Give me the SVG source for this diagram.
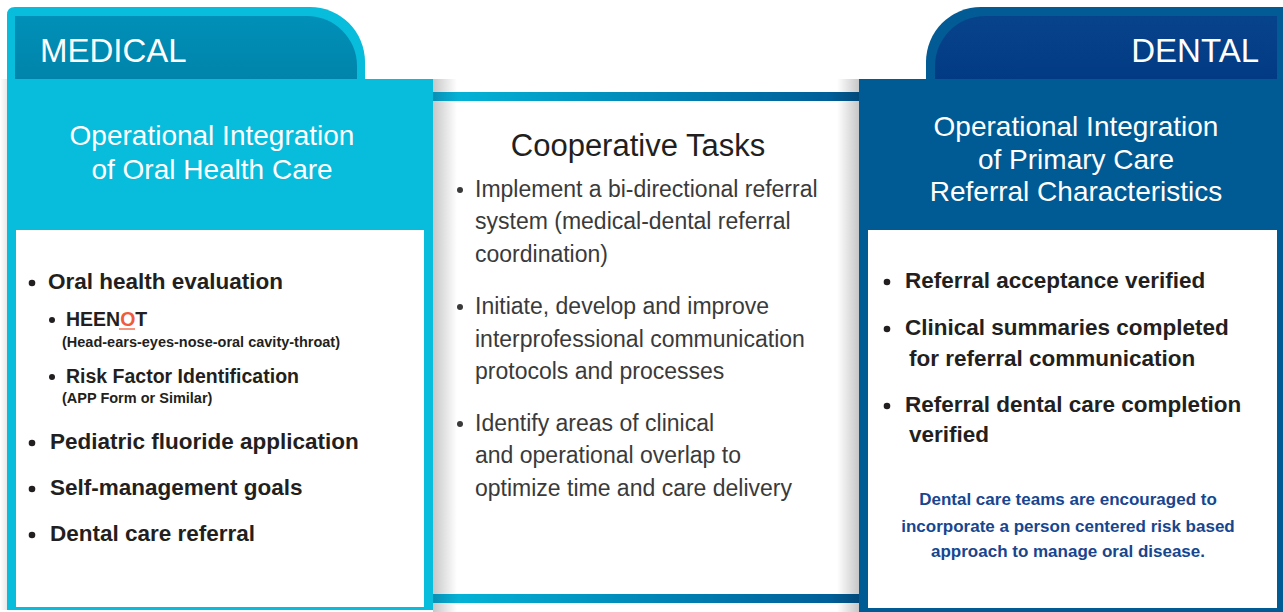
<svg xmlns="http://www.w3.org/2000/svg" width="1283" height="612" viewBox="0 0 1283 612">
<style>
  text { font-family: "Liberation Sans", Arial, sans-serif; }
  .tab { fill: #ffffff; font-size: 33px; }
  .head { fill: #ffffff; font-size: 28px; text-anchor: middle; }
  .mid { fill: #3a3a3a; font-size: 23px; }
  .bul { fill: #231f20; font-size: 22.5px; font-weight: bold; }
  .sub { fill: #231f20; font-size: 19.5px; font-weight: bold; }
  .small { fill: #231f20; font-size: 14.5px; font-weight: bold; }
  .note { fill: #17468f; font-size: 17px; font-weight: bold; text-anchor: middle; }
  .dot { fill: #231f20; }
  .dotm { fill: #3a3a3a; }
</style>
<defs>
  <linearGradient id="bar" x1="0" y1="0" x2="1" y2="0">
    <stop offset="0" stop-color="#0a8fb5"/>
    <stop offset="0.06" stop-color="#04b2d6"/>
    <stop offset="0.5" stop-color="#0087b8"/>
    <stop offset="0.93" stop-color="#005f98"/>
    <stop offset="1" stop-color="#02497a"/>
  </linearGradient>
  <linearGradient id="shL" x1="0" y1="0" x2="1" y2="0">
    <stop offset="0" stop-color="#000" stop-opacity="0.22"/>
    <stop offset="1" stop-color="#000" stop-opacity="0"/>
  </linearGradient>
  <linearGradient id="shR" x1="1" y1="0" x2="0" y2="0">
    <stop offset="0" stop-color="#000" stop-opacity="0.22"/>
    <stop offset="1" stop-color="#000" stop-opacity="0"/>
  </linearGradient>
  <linearGradient id="tabL" x1="0" y1="0" x2="0" y2="1">
    <stop offset="0" stop-color="#0090b8"/>
    <stop offset="1" stop-color="#0084ab"/>
  </linearGradient>
  <linearGradient id="tabR" x1="0" y1="0" x2="0" y2="1">
    <stop offset="0" stop-color="#07438b"/>
    <stop offset="1" stop-color="#023b84"/>
  </linearGradient>
</defs>
<rect width="1283" height="612" fill="#ffffff"/>

<g id="cooperative">
  <rect x="433" y="92" width="426" height="520" fill="#ffffff"/>
  <rect x="433" y="79" width="24" height="533" fill="url(#shL)"/>
  <rect x="837" y="79" width="22" height="533" fill="url(#shR)"/>
  <rect x="433" y="92" width="426" height="9" fill="url(#bar)"/>
  <rect x="433" y="594" width="426" height="9" fill="url(#bar)"/>
  <text x="638" y="156" text-anchor="middle" style="fill:#231f20;font-size:31px">Cooperative Tasks</text>
  <circle class="dotm" cx="460" cy="190" r="3"/>
  <text class="mid" x="475" y="197">Implement a bi-directional referral</text>
  <text class="mid" x="475" y="229">system (medical-dental referral</text>
  <text class="mid" x="475" y="262">coordination)</text>
  <circle class="dotm" cx="460" cy="307" r="3"/>
  <text class="mid" x="475" y="314">Initiate, develop and improve</text>
  <text class="mid" x="475" y="347">interprofessional communication</text>
  <text class="mid" x="475" y="379">protocols and processes</text>
  <circle class="dotm" cx="460" cy="424" r="3"/>
  <text class="mid" x="475" y="431">Identify areas of clinical</text>
  <text class="mid" x="475" y="463">and operational overlap to</text>
  <text class="mid" x="475" y="496">optimize time and care delivery</text>
</g>

<g id="medical">
  <rect x="0" y="79" width="7" height="531" fill="url(#shR)" opacity="0.4"/>
  <path d="M7,79 V15 Q7,7 15,7 H310 A55,55 0 0 1 365,62 V79 Z" fill="#08bcdc"/>
  <path d="M15,79 V16 H307 A50,50 0 0 1 357,66 V79 Z" fill="url(#tabL)"/>
  <text class="tab" x="40" y="62">MEDICAL</text>
  <rect x="7" y="79" width="426" height="531" fill="#08bcdc"/>
  <rect x="16" y="230" width="408" height="377" fill="#ffffff"/>
  <text class="head" x="212" y="145">Operational Integration</text>
  <text class="head" x="212" y="179">of Oral Health Care</text>
  <circle class="dot" cx="32" cy="283" r="3.3"/>
  <text class="bul" x="48" y="289">Oral health evaluation</text>
  <circle class="dot" cx="52" cy="320" r="3"/>
  <text class="sub" x="66" y="326">HEEN<tspan fill="#ef5b3b">O</tspan>T</text>
  <line x1="119" y1="329" x2="135" y2="329" stroke="#ef5b3b" stroke-width="1.3"/>
  <text class="small" x="62" y="347">(Head-ears-eyes-nose-oral cavity-throat)</text>
  <circle class="dot" cx="52" cy="377" r="3"/>
  <text class="sub" x="66" y="383">Risk Factor Identification</text>
  <text class="small" x="62" y="403">(APP Form or Similar)</text>
  <circle class="dot" cx="32" cy="443" r="3.3"/>
  <text class="bul" x="50" y="449">Pediatric fluoride application</text>
  <circle class="dot" cx="32" cy="489" r="3.3"/>
  <text class="bul" x="50" y="495">Self-management goals</text>
  <circle class="dot" cx="32" cy="535" r="3.3"/>
  <text class="bul" x="50" y="541">Dental care referral</text>
</g>

<g id="dental">
  <path d="M926,79 V62 A55,55 0 0 1 981,7 H1283 V79 Z" fill="#035b95"/>
  <path d="M935,79 V66 A50,50 0 0 1 985,16 H1277 V79 Z" fill="url(#tabR)"/>
  <text class="tab" x="1259" y="62" text-anchor="end">DENTAL</text>
  <rect x="859" y="79" width="424" height="533" fill="#005a94"/>
  <rect x="868" y="230" width="409" height="378" fill="#ffffff"/>
  <text class="head" x="1076" y="136">Operational Integration</text>
  <text class="head" x="1076" y="169">of Primary Care</text>
  <text class="head" x="1076" y="201">Referral Characteristics</text>
  <circle class="dot" cx="887" cy="282" r="3.3"/>
  <text class="bul" x="905" y="288">Referral acceptance verified</text>
  <circle class="dot" cx="887" cy="329" r="3.3"/>
  <text class="bul" x="905" y="335">Clinical summaries completed</text>
  <text class="bul" x="909" y="366">for referral communication</text>
  <circle class="dot" cx="887" cy="406" r="3.3"/>
  <text class="bul" x="905" y="412">Referral dental care completion</text>
  <text class="bul" x="909" y="442">verified</text>
  <text class="note" x="1068" y="505">Dental care teams are encouraged to</text>
  <text class="note" x="1068" y="532">incorporate a person centered risk based</text>
  <text class="note" x="1068" y="557">approach to manage oral disease.</text>
</g>

<g id="connectors"/>
</svg>
